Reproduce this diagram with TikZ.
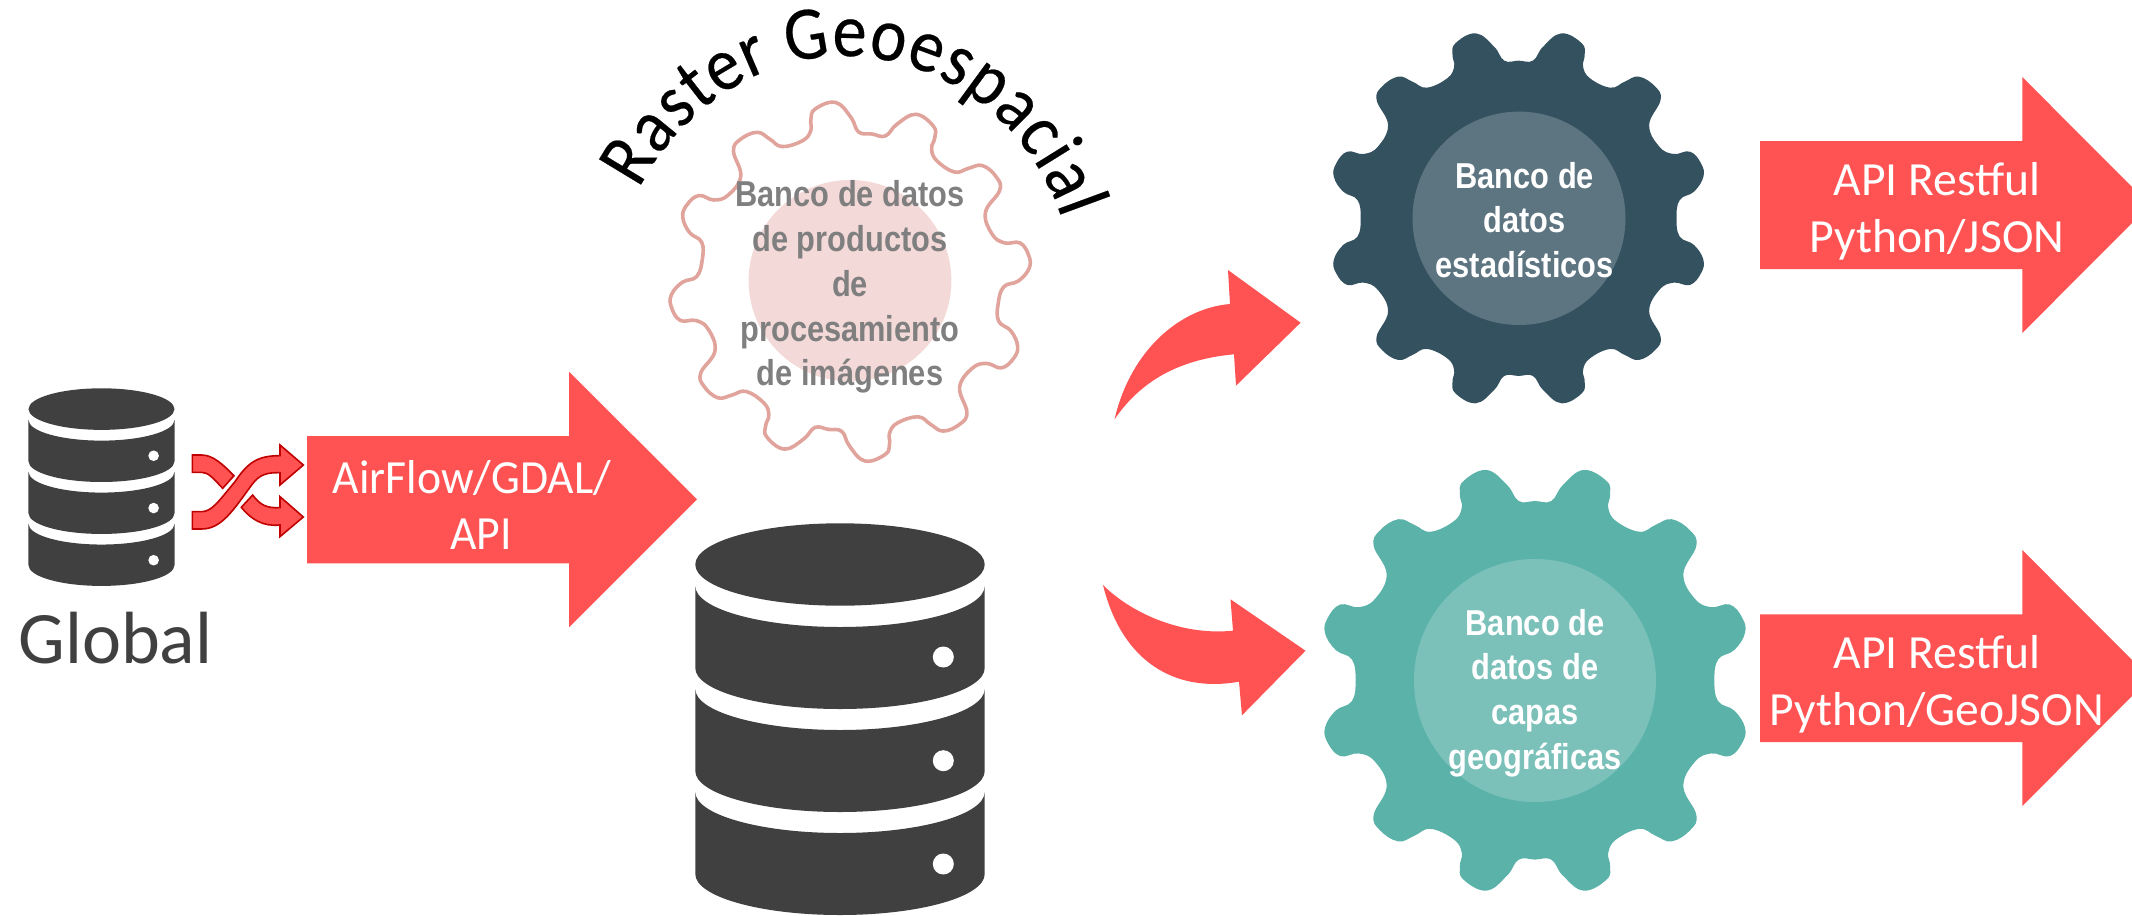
\documentclass[tikz,border=0pt]{standalone}
\usepackage{fontspec}
\setmainfont{Carlito}
\newfontfamily\gearfont{Liberation Sans}[FakeStretch=0.855]
\newfontfamily\archfont{Carlito}[FakeStretch=0.9,FakeBold=0.3]
\newfontfamily\ingestfont{Carlito}[FakeStretch=0.96]
\usetikzlibrary{decorations.text}
\definecolor{redfill}{HTML}{FF5353}
\definecolor{shufedge}{HTML}{C00000}
\definecolor{dbgrey}{HTML}{404040}
\definecolor{navygear}{HTML}{345160}
\definecolor{navyin}{HTML}{5D7481}
\definecolor{tealgear}{HTML}{5AB2A9}
\definecolor{tealin}{HTML}{7BC1BA}
\definecolor{pinkedge}{HTML}{E0A49C}
\definecolor{pinkin}{HTML}{F4D9D9}
\definecolor{greytext}{HTML}{7F7F7F}
\newcommand\dbband[2]{(695.3,#1) .. controls (695.3,#1+22.6) and (760,#1+41) .. (840,#1+41) .. controls (920,#1+41) and (984.7,#1+22.6) .. (984.7,#1) -- (984.7,#2) .. controls (984.7,#2+22.6) and (920,#2+41) .. (840,#2+41) .. controls (760,#2+41) and (695.3,#2+22.6) .. (695.3,#2) -- cycle}
\newcommand\dbicon{%
  \fill[dbgrey] (840,564.5) circle [x radius=144.7,y radius=41.2];
  \fill[dbgrey] \dbband{586}{668};
  \fill[dbgrey] \dbband{689}{771};
  \fill[dbgrey] \dbband{792}{874};
  \fill[white] (943.3,657) circle [radius=10.5];
  \fill[white] (943.3,760.7) circle [radius=10.5];
  \fill[white] (943.3,864) circle [radius=10.5];
}
\newcommand\gearoutline{plot[smooth cycle,tension=0.7] coordinates {
(0,-473)(35,-473)(60,-515)(105,-555)(155,-525)(162,-490)(158,-455)(175,-420)(225,-392)(260,-410)(295,-425)(335,-395)(348,-355)(320,-280)(345,-215)(380,-193)(420,-200)(447,-165)(453,-125)(430,-80)(395,-55)(387,0)
(395,55)(430,80)(453,125)(447,165)(420,200)(380,193)(345,215)(320,280)(348,355)(335,395)(295,425)(260,410)(225,392)(175,420)(158,455)(162,490)(155,525)(105,555)(60,515)(35,473)
(0,473)(-35,473)(-60,515)(-105,555)(-155,525)(-162,490)(-158,455)(-175,420)(-225,392)(-260,410)(-295,425)(-335,395)(-348,355)(-320,280)(-345,215)(-380,193)(-420,200)(-447,165)(-453,125)(-430,80)(-395,55)(-387,0)
(-395,-55)(-430,-80)(-453,-125)(-447,-165)(-420,-200)(-380,-193)(-345,-215)(-320,-280)(-348,-355)(-335,-395)(-295,-425)(-260,-410)(-225,-392)(-175,-420)(-158,-455)(-162,-490)(-155,-525)(-105,-555)(-60,-515)(-35,-473)}}
\tikzset{
  blockarrow/.style={fill=redfill,draw=none},
  arrowlabel/.style={text=white,align=center,inner sep=0pt,font=\fontsize{23.8}{28.4}\selectfont},
  gearlabel/.style={align=center,inner sep=0pt,font=\gearfont\bfseries\fontsize{18}{22.4}\selectfont},
  shuffle/.style={fill=redfill,draw=shufedge,line width=0.8pt,line join=miter}
}
\begin{document}
\begin{tikzpicture}[x=0.5pt,y=-0.5pt]
\useasboundingbox (0,0) rectangle (2132,916);
\clip (0,0) rectangle (2132,916);
% source database
\begin{scope}[shift={(101.5,388.3)},scale=0.5045,shift={(-840,-523.3)}]
\dbicon
\end{scope}
\node[anchor=base,inner sep=0pt,text=dbgrey,font=\fontsize{37}{44}\selectfont] (global) at (115.5,663.3) {Global};
% shuffle icon
\begin{scope}[shift={(180,430)},scale=0.3333]
\draw[shuffle] (37,245) -- (65,245) .. controls (95,245) and (115,215) .. (165,155) .. controls (205,95) and (235,77) .. (300,77) -- (300,45) -- (370,105) -- (300,165) -- (300,128) .. controls (265,128) and (240,130) .. (215,165) .. controls (160,240) and (125,297) .. (65,297) -- (37,297) -- cycle;
\draw[shuffle] (37,75) -- (65,75) .. controls (100,75) and (130,105) .. (162,137) -- (128,175) .. controls (100,145) and (85,127) .. (65,127) -- (37,127) -- cycle;
\draw[shuffle] (218,195) .. controls (240,225) and (260,235) .. (300,233) -- (300,200) -- (370,261) -- (300,320) -- (300,285) .. controls (250,290) and (215,270) .. (184,232) -- cycle;
\end{scope}
% ingest arrow
\fill[blockarrow] (307,436) -- (569,436) -- (569,371.7) -- (697,499.3) -- (569,627.3) -- (569,563.3) -- (307,563.3) -- cycle;
\node[arrowlabel,font=\ingestfont\fontsize{23.8}{28.4}\selectfont] (airflow) at (472,505) {AirFlow/GDAL/\\\hspace*{9pt}API};
% central database
\dbicon
% raster gear
\begin{scope}[shift={(850.2,281.7)},rotate=-8.4,xscale=0.3865,yscale=0.3157]
\draw[pinkedge,line width=1.8pt] \gearoutline;
\end{scope}
\fill[pinkin] (850,280.7) circle [x radius=101.4,y radius=100.7];
\node[gearlabel,text=greytext] (rasterbank) at (850,287) {Banco de datos\\de productos\\de\\procesamiento\\de imágenes};
% curved title
\path[decorate,decoration={text along path,text align={fit to path},text={|\archfont\fontsize{38}{46}\selectfont|Raster Geoespacial}}] (639,189) .. controls (680,108.7) and (760.1,56) .. (843,56) .. controls (941,56) and (1029,120.1) .. (1062,219);
% curved arrows
\fill[blockarrow] (1114.5,419.3) .. controls (1130.8,350) and (1179.8,308.3) .. (1230,304) -- (1228,270) -- (1300.6,322.7) -- (1236,385.7) -- (1234,354.3) .. controls (1171.6,360) and (1137,386.7) .. (1114.5,419.3) -- cycle;
\fill[blockarrow] (1103,585) .. controls (1130,612) and (1180,636) .. (1233,630.7) -- (1230.5,599.3) -- (1305.5,650.7) -- (1242,715.3) -- (1239,681.7) .. controls (1175,693) and (1122,662) .. (1103,585) -- cycle;
% statistics gear
\begin{scope}[shift={(1518.6,218.3)},xscale=0.408,yscale=0.3333]
\fill[navygear] \gearoutline;
\end{scope}
\fill[navyin] (1519,218.3) circle [x radius=106.5,y radius=106.7];
\node[gearlabel,text=white] (statsbank) at (1524.7,220) {Banco de\\datos\\estadísticos};
% geo gear
\begin{scope}[shift={(1535,680.3)},xscale=0.4636,yscale=0.379]
\fill[tealgear] \gearoutline;
\end{scope}
\fill[tealin] (1535,680.5) circle [x radius=121,y radius=121.5];
\node[gearlabel,text=white] (geobank) at (1535,693) {Banco de\\datos de\\capas\\geográficas};
% output arrows
\fill[blockarrow] (1760,141) -- (2022.3,141) -- (2022.3,77) -- (2150,205) -- (2022.3,333) -- (2022.3,269) -- (1760,269) -- cycle;
\node[arrowlabel] (apijson) at (1937,211) {API Restful\\Python/JSON};
\fill[blockarrow] (1760,614.3) -- (2022.3,614.3) -- (2022.3,550) -- (2150,678) -- (2022.3,806) -- (2022.3,742) -- (1760,742) -- cycle;
\node[arrowlabel] (apigeo) at (1937,684) {API Restful\\Python/GeoJSON};
\end{tikzpicture}
\end{document}
